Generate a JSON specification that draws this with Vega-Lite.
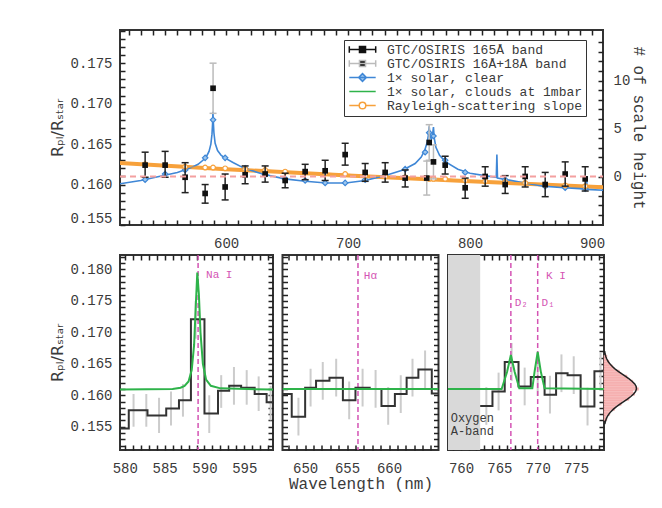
{
"$schema": "https://vega.github.io/schema/vega-lite/v6.json",
"background": "white",
"padding": {"left": 48, "top": 28, "right": 5, "bottom": 5},
"spacing": 30,
"bounds": "flush",
"config": {
  "view": {"stroke": "#333", "strokeWidth": 2},
  "font": "Liberation Mono",
  "axis": {"domain": false, "grid": false, "ticks": true, "tickSize": -5, "labelFont": "Liberation Mono", "labelFontSize": 14, "labelColor": "#3a3a3a", "tickColor": "#222", "tickWidth": 1.5, "titleFont": "Liberation Mono", "titleFontSize": 16, "titleFontWeight": "normal", "titleColor": "#3a3a3a", "labelOverlap": false, "labelFlush": false}
},
"vconcat": [
{
  "width": 483, "height": 195,
  "layer": [
    {"data": {"values": [{"wl":513,"r":0.16265},{"wl":600,"r":0.1619},{"wl":700,"r":0.16112},{"wl":800,"r":0.1604},{"wl":909,"r":0.15967}]},
     "mark": {"type":"line","color":"#f7a13b","strokeWidth":4,"clip":true},
     "encoding": {
       "x": {"field":"wl","type":"quantitative","scale":{"domain":[513,909],"nice":false,"zero":false},
             "axis":{"orient":"bottom","title":null,"labelOverlap":false,"values":[520,530,540,550,560,570,580,590,600,610,620,630,640,650,660,670,680,690,700,710,720,730,740,750,760,770,780,790,800,810,820,830,840,850,860,870,880,890,900],
                     "labelExpr":"datum.value % 100 === 0 ? datum.label : ''",
                     "tickSize":-5,"labelPadding":16}},
       "y": {"field":"r","type":"quantitative","scale":{"domain":[0.155,0.1791],"nice":false,"zero":false},
             "axis":{"orient":"left","title":"R\u209a\u2097/R\u209b\u209c\u2090\u1d63","titleFont":"DejaVu Sans","labelOverlap":false,"values":[0.155,0.156,0.157,0.158,0.159,0.16,0.161,0.162,0.163,0.164,0.165,0.166,0.167,0.168,0.169,0.17,0.171,0.172,0.173,0.174,0.175,0.176,0.177,0.178,0.179],
                     "format":".3f","labelExpr":"round(datum.value*1000) % 5 === 0 ? datum.label : ''",
                     "tickSize":-5,"labelPadding":13,"labelFlush":true,"titlePadding":4}}
     }},
    {"layer": [
      {"data": {"values": [{"wl":513,"r":0.1601},{"wl":530,"r":0.1605},{"wl":545,"r":0.161},{"wl":560,"r":0.1615},{"wl":570,"r":0.162},{"wl":577,"r":0.1625},{"wl":581,"r":0.163},{"wl":584,"r":0.1635},{"wl":586,"r":0.1641},{"wl":587.5,"r":0.165},{"wl":588.4,"r":0.1662},{"wl":588.9,"r":0.1675},{"wl":589.2,"r":0.169},{"wl":589.5,"r":0.1678},{"wl":590,"r":0.1664},{"wl":591,"r":0.1651},{"wl":593,"r":0.1642},{"wl":596,"r":0.1636},{"wl":600,"r":0.1632},{"wl":606,"r":0.1627},{"wl":615,"r":0.162},{"wl":630,"r":0.1613},{"wl":648,"r":0.1607},{"wl":665,"r":0.1604},{"wl":682,"r":0.1602},{"wl":698,"r":0.1602},{"wl":714,"r":0.1605},{"wl":730,"r":0.1611},{"wl":745,"r":0.1618},{"wl":755,"r":0.1626},{"wl":760,"r":0.1634},{"wl":763,"r":0.1643},{"wl":765,"r":0.1653},{"wl":766,"r":0.1663},{"wl":766.5,"r":0.1672},{"wl":767.2,"r":0.166},{"wl":768.3,"r":0.1656},{"wl":769.3,"r":0.1662},{"wl":770,"r":0.1671},{"wl":770.6,"r":0.1658},{"wl":772,"r":0.1646},{"wl":775,"r":0.1636},{"wl":780,"r":0.1628},{"wl":790,"r":0.1619},{"wl":800,"r":0.1614},{"wl":812,"r":0.1611},{"wl":821.5,"r":0.1609},{"wl":822,"r":0.1637},{"wl":822.5,"r":0.1608},{"wl":830,"r":0.1606},{"wl":845,"r":0.1602},{"wl":860,"r":0.1598},{"wl":877,"r":0.1596},{"wl":890,"r":0.1595},{"wl":895,"r":0.1594},{"wl":895.5,"r":0.161},{"wl":896,"r":0.1594},{"wl":909,"r":0.1593}]},
       "mark": {"type":"line","color":"#3f87d6","strokeWidth":1.6,"clip":true},
       "encoding": {"x":{"field":"wl","type":"quantitative","scale":{"domain":[513,909],"nice":false,"zero":false},"axis":null},"y":{"field":"r","type":"quantitative","scale":{"domain":[0.155,0.1791],"nice":false,"zero":false},"axis":null}}},
      {"data": {"values": [{"wl":533.6,"r":0.1606},{"wl":550,"r":0.1613},{"wl":566.4,"r":0.1618},{"wl":582.8,"r":0.1633},{"wl":589.3,"r":0.168},{"wl":599.2,"r":0.1633},{"wl":615.6,"r":0.162},{"wl":632,"r":0.1612},{"wl":648.4,"r":0.1607},{"wl":664.8,"r":0.1605},{"wl":681.2,"r":0.1602},{"wl":697.6,"r":0.1602},{"wl":714,"r":0.1606},{"wl":730.4,"r":0.1612},{"wl":746.8,"r":0.1619},{"wl":763.2,"r":0.164},{"wl":766.5,"r":0.1664},{"wl":770,"r":0.166},{"wl":779.6,"r":0.163},{"wl":796,"r":0.1615},{"wl":812.4,"r":0.1608},{"wl":828.8,"r":0.1606},{"wl":845.2,"r":0.1602},{"wl":861.6,"r":0.1598},{"wl":878,"r":0.1596},{"wl":894.4,"r":0.1595}]},
       "mark": {"type":"point","shape":"diamond","filled":true,"fill":"#9cc6ee","stroke":"#3f87d6","strokeWidth":1.2,"size":30,"opacity":1,"clip":true},
       "encoding": {"x":{"field":"wl","type":"quantitative","scale":{"domain":[513,909],"nice":false,"zero":false},"axis":null},"y":{"field":"r","type":"quantitative","scale":{"domain":[0.155,0.1791],"nice":false,"zero":false},"axis":null}}},
      {"data": {"values": [{"wl":533.6,"r":0.1625},{"wl":550,"r":0.1624},{"wl":566.4,"r":0.1622},{"wl":582.8,"r":0.1621},{"wl":589.3,"r":0.1621},{"wl":599.2,"r":0.162},{"wl":615.6,"r":0.1619},{"wl":632,"r":0.1618},{"wl":648.4,"r":0.1616},{"wl":664.8,"r":0.1615},{"wl":681.2,"r":0.1614},{"wl":697.6,"r":0.1613},{"wl":714,"r":0.1611},{"wl":730.4,"r":0.161},{"wl":746.8,"r":0.1609},{"wl":763.2,"r":0.1608},{"wl":766.5,"r":0.1607},{"wl":770,"r":0.1607},{"wl":779.6,"r":0.1607},{"wl":796,"r":0.1605},{"wl":812.4,"r":0.1604},{"wl":828.8,"r":0.1603},{"wl":845.2,"r":0.1602},{"wl":861.6,"r":0.16},{"wl":878,"r":0.1599},{"wl":894.4,"r":0.1598}]},
       "mark": {"type":"line","color":"#f7a13b","strokeWidth":1,"clip":true,"point":{"shape":"circle","filled":false,"fill":"white","stroke":"#f7a13b","strokeWidth":1.2,"size":22}},
       "encoding": {"x":{"field":"wl","type":"quantitative","scale":{"domain":[513,909],"nice":false,"zero":false},"axis":null},"y":{"field":"r","type":"quantitative","scale":{"domain":[0.155,0.1791],"nice":false,"zero":false},"axis":null}}},
      {"data": {"values": [{"wl":589.3,"r":0.1719,"lo":0.1688,"hi":0.175},{"wl":764.5,"r":0.1608,"lo":0.1587,"hi":0.1629},{"wl":766.5,"r":0.1652,"lo":0.163,"hi":0.1674},{"wl":770,"r":0.1628,"lo":0.1607,"hi":0.1649}]},
       "layer": [
         {"mark": {"type":"rule","color":"#bbbbbb","strokeWidth":1.5},
          "encoding": {"x":{"field":"wl","type":"quantitative","scale":{"domain":[513,909],"nice":false,"zero":false},"axis":null},"y":{"field":"lo","type":"quantitative","scale":{"domain":[0.155,0.1791],"nice":false,"zero":false},"axis":null},"y2":{"field":"hi"}}},
         {"mark": {"type":"tick","orient":"horizontal","color":"#bbbbbb","size":7,"thickness":1.5,"opacity":1},
          "encoding": {"x":{"field":"wl","type":"quantitative","scale":{"domain":[513,909],"nice":false,"zero":false},"axis":null},"y":{"field":"lo","type":"quantitative","scale":{"domain":[0.155,0.1791],"nice":false,"zero":false},"axis":null}}},
         {"mark": {"type":"tick","orient":"horizontal","color":"#bbbbbb","size":7,"thickness":1.5,"opacity":1},
          "encoding": {"x":{"field":"wl","type":"quantitative","scale":{"domain":[513,909],"nice":false,"zero":false},"axis":null},"y":{"field":"hi","type":"quantitative","scale":{"domain":[0.155,0.1791],"nice":false,"zero":false},"axis":null}}}
       ]},
      {"data": {"values": [{"wl":533.6,"lo":0.1609,"hi":0.164},{"wl":550,"lo":0.1609,"hi":0.1641},{"wl":566.4,"lo":0.159,"hi":0.1627},{"wl":582.8,"lo":0.1577,"hi":0.16},{"wl":599.2,"lo":0.1581,"hi":0.1613},{"wl":615.6,"lo":0.1601,"hi":0.1623},{"wl":632,"lo":0.1603,"hi":0.1623},{"wl":648.4,"lo":0.1596,"hi":0.1614},{"wl":664.8,"lo":0.1606,"hi":0.1625},{"wl":681.2,"lo":0.1605,"hi":0.163},{"wl":697.6,"lo":0.1624,"hi":0.1651},{"wl":714,"lo":0.1604,"hi":0.1626},{"wl":730.4,"lo":0.1603,"hi":0.1627},{"wl":746.8,"lo":0.1597,"hi":0.1618},{"wl":779.6,"lo":0.1613,"hi":0.1635},{"wl":796,"lo":0.1583,"hi":0.1608},{"wl":812.4,"lo":0.1598,"hi":0.1622},{"wl":828.8,"lo":0.1589,"hi":0.1611},{"wl":845.2,"lo":0.1597,"hi":0.1622},{"wl":861.6,"lo":0.1585,"hi":0.1615},{"wl":878,"lo":0.1598,"hi":0.1628},{"wl":894.4,"lo":0.1592,"hi":0.1622}]},
       "layer": [
         {"mark": {"type":"rule","color":"#222222","strokeWidth":1.5},
          "encoding": {"x":{"field":"wl","type":"quantitative","scale":{"domain":[513,909],"nice":false,"zero":false},"axis":null},"y":{"field":"lo","type":"quantitative","scale":{"domain":[0.155,0.1791],"nice":false,"zero":false},"axis":null},"y2":{"field":"hi"}}},
         {"mark": {"type":"tick","orient":"horizontal","color":"#222222","size":7,"thickness":1.5,"opacity":1},
          "encoding": {"x":{"field":"wl","type":"quantitative","scale":{"domain":[513,909],"nice":false,"zero":false},"axis":null},"y":{"field":"lo","type":"quantitative","scale":{"domain":[0.155,0.1791],"nice":false,"zero":false},"axis":null}}},
         {"mark": {"type":"tick","orient":"horizontal","color":"#222222","size":7,"thickness":1.5,"opacity":1},
          "encoding": {"x":{"field":"wl","type":"quantitative","scale":{"domain":[513,909],"nice":false,"zero":false},"axis":null},"y":{"field":"hi","type":"quantitative","scale":{"domain":[0.155,0.1791],"nice":false,"zero":false},"axis":null}}}
       ]},
      {"data": {"values": [{"wl":533.6,"r":0.1624},{"wl":550,"r":0.1624},{"wl":566.4,"r":0.1609},{"wl":582.8,"r":0.1589},{"wl":599.2,"r":0.1597},{"wl":615.6,"r":0.1612},{"wl":632,"r":0.1613},{"wl":648.4,"r":0.1605},{"wl":664.8,"r":0.1616},{"wl":681.2,"r":0.1617},{"wl":697.6,"r":0.1637},{"wl":714,"r":0.1615},{"wl":730.4,"r":0.1615},{"wl":746.8,"r":0.1608},{"wl":779.6,"r":0.1624},{"wl":796,"r":0.1596},{"wl":812.4,"r":0.161},{"wl":828.8,"r":0.16},{"wl":845.2,"r":0.161},{"wl":861.6,"r":0.16},{"wl":878,"r":0.1613},{"wl":894.4,"r":0.1607},{"wl":589.3,"r":0.1719},{"wl":764.5,"r":0.1608},{"wl":766.5,"r":0.1652},{"wl":770,"r":0.1628}]},
       "mark": {"type":"point","shape":"square","filled":true,"color":"#111111","size":32,"opacity":1},
       "encoding": {"x":{"field":"wl","type":"quantitative","scale":{"domain":[513,909],"nice":false,"zero":false},"axis":null},"y":{"field":"r","type":"quantitative","scale":{"domain":[0.155,0.1791],"nice":false,"zero":false},"axis":null}}},
      {"data": {"values": [{"series":"GTC/OSIRIS 165Å band"},{"series":"GTC/OSIRIS 16Å+18Å band"},{"series":"1× solar, clear"},{"series":"1× solar, clouds at 1mbar"},{"series":"Rayleigh-scattering slope"}]},
       "mark": {"type":"point","filled":true,"opacity":1,"strokeWidth":1.5},
       "encoding": {
         "x":{"field":"nx","type":"quantitative","scale":{"domain":[513,909],"nice":false,"zero":false},"axis":null},
         "y":{"field":"ny","type":"quantitative","scale":{"domain":[0.155,0.1791],"nice":false,"zero":false},"axis":null},
         "shape":{"field":"series","type":"nominal",
           "scale":{"domain":["GTC/OSIRIS 165Å band","GTC/OSIRIS 16Å+18Å band","1× solar, clear","1× solar, clouds at 1mbar","Rayleigh-scattering slope"],
                    "range":["M-2.4,0H2.4M-2.4,-0.6V0.6M2.4,-0.6V0.6M-0.55,-0.55H0.55V0.55H-0.55Z","M-2.4,0H2.4M-2.4,-0.6V0.6M2.4,-0.6V0.6M-0.55,-0.55H0.55V0.55H-0.55Z","M-2.4,0H2.4M0,-0.7L0.7,0L0,0.7L-0.7,0Z","M-2.4,0H2.4","M-2.4,0H-0.6M0.6,0H2.4M0.6,0A0.6,0.6 0 1,1 -0.6,0A0.6,0.6 0 1,1 0.6,0Z"]},
           "legend":{"title":null,"orient":"none","legendX":224,"legendY":10,"fillColor":"white","strokeColor":"#333","padding":3,"labelFont":"Liberation Mono","labelFontSize":13,"labelColor":"#3a3a3a","symbolSize":121,"symbolStrokeWidth":1.5,"symbolOffset":9,"labelOffset":18,"rowPadding":-1,"cornerRadius":0,"labelLimit":400}},
         "fill":{"field":"series","type":"nominal",
           "scale":{"domain":["GTC/OSIRIS 165Å band","GTC/OSIRIS 16Å+18Å band","1× solar, clear","1× solar, clouds at 1mbar","Rayleigh-scattering slope"],"range":["#111111","#111111","#9cc6ee","transparent","white"]},
           "legend":{"title":null,"orient":"none","legendX":224,"legendY":10,"fillColor":"white","strokeColor":"#333","padding":3,"labelFont":"Liberation Mono","labelFontSize":13,"labelColor":"#3a3a3a","symbolSize":121,"symbolStrokeWidth":1.5,"symbolOffset":9,"labelOffset":18,"rowPadding":-1,"cornerRadius":0,"labelLimit":400}},
         "stroke":{"field":"series","type":"nominal",
           "scale":{"domain":["GTC/OSIRIS 165Å band","GTC/OSIRIS 16Å+18Å band","1× solar, clear","1× solar, clouds at 1mbar","Rayleigh-scattering slope"],"range":["#111111","#bbbbbb","#3f87d6","#2eb34a","#f7a13b"]},
           "legend":{"title":null,"orient":"none","legendX":224,"legendY":10,"fillColor":"white","strokeColor":"#333","padding":3,"labelFont":"Liberation Mono","labelFontSize":13,"labelColor":"#3a3a3a","symbolSize":121,"symbolStrokeWidth":1.5,"symbolOffset":9,"labelOffset":18,"rowPadding":-1,"cornerRadius":0,"labelLimit":400}}
       }}
    ]},
    {"data": {"values": [{"wl":513,"sh":0},{"wl":909,"sh":0}]},
     "mark": {"type":"line","color":"#f4a0a0","strokeDash":[6,4],"strokeWidth":2,"clip":true},
     "encoding": {
       "x": {"field":"wl","type":"quantitative","scale":{"domain":[513,909],"nice":false,"zero":false},
             "axis":{"orient":"top","title":null,"labels":false,"values":[520,530,540,550,560,570,580,590,600,610,620,630,640,650,660,670,680,690,700,710,720,730,740,750,760,770,780,790,800,810,820,830,840,850,860,870,880,890,900],
                     "tickSize":-5}},
       "y": {"field":"sh","type":"quantitative","scale":{"domain":[-5.04,15.27],"nice":false,"zero":false},
             "axis":{"orient":"right","title":"# of scale height","labelOverlap":false,"values":[-4,-3,-2,-1,0,1,2,3,4,5,6,7,8,9,10,11,12,13,14],
                     "labelExpr":"datum.value % 5 === 0 ? datum.label : ''",
                     "tickSize":-5,"labelPadding":15,"titlePadding":1}}
     }}
  ],
  "resolve": {"scale": {"y": "independent"}, "axis": {"x": "independent", "y": "independent"}}
},
{
  "hconcat": [
    {
      "width": 153, "height": 195,
      "layer": [
        {"data": {"values": [{"wl":581.1,"lo":0.155,"hi":0.1602},{"wl":582.7,"lo":0.155,"hi":0.1602},{"wl":584.3,"lo":0.154,"hi":0.1596},{"wl":585.8,"lo":0.1552,"hi":0.1606},{"wl":587.3,"lo":0.1566,"hi":0.1618},{"wl":588.9,"lo":0.169,"hi":0.175},{"wl":590.6,"lo":0.154,"hi":0.16},{"wl":592.1,"lo":0.158,"hi":0.1632},{"wl":593.7,"lo":0.1585,"hi":0.1645},{"wl":595.3,"lo":0.1585,"hi":0.164},{"wl":596.8,"lo":0.1575,"hi":0.163},{"wl":598.3,"lo":0.156,"hi":0.1615}]},
         "mark": {"type":"rule","color":"#cccccc","strokeWidth":2,"clip":true},
         "encoding": {
           "x": {"field":"wl","type":"quantitative","scale":{"domain":[579.4,598.6],"nice":false,"zero":false},
                 "axis":{"orient":"bottom","title":null,"labelOverlap":false,"values":[580,581,582,583,584,585,586,587,588,589,590,591,592,593,594,595,596,597,598],
                         "labelExpr":"datum.value % 5 === 0 ? datum.label : ''",
                         "tickSize":-5,"labelPadding":16}},
           "y": {"field":"lo","type":"quantitative","scale":{"domain":[0.1513,0.1823],"nice":false,"zero":false},
                 "axis":{"orient":"left","title":"R\u209a\u2097/R\u209b\u209c\u2090\u1d63","titleFont":"DejaVu Sans","labelOverlap":false,"values":[0.152,0.153,0.154,0.155,0.156,0.157,0.158,0.159,0.16,0.161,0.162,0.163,0.164,0.165,0.166,0.167,0.168,0.169,0.17,0.171,0.172,0.173,0.174,0.175,0.176,0.177,0.178,0.179,0.18,0.181,0.182],
                         "format":".3f","labelExpr":"round(datum.value*1000) % 5 === 0 ? datum.label : ''",
                         "tickSize":-5,"labelPadding":13,"titlePadding":4}},
           "y2": {"field":"hi"}
         }},
        {"layer": [
          {"data": {"values": [{"wl":589.2}]},
           "mark": {"type":"rule","color":"#d454b4","strokeDash":[5,3],"strokeWidth":1.5},
           "encoding": {"x":{"field":"wl","type":"quantitative","scale":{"domain":[579.4,598.6],"nice":false,"zero":false},"axis":null}}},
          {"data": {"values": [{"wl":579.4,"r":0.1547},{"wl":580.5,"r":0.1576},{"wl":582.85,"r":0.1568},{"wl":585.2,"r":0.1579},{"wl":586.8,"r":0.1592},{"wl":588.3,"r":0.1721},{"wl":590,"r":0.1571},{"wl":591.7,"r":0.1607},{"wl":593.1,"r":0.1615},{"wl":594.6,"r":0.1612},{"wl":596.3,"r":0.1602},{"wl":597.8,"r":0.1589},{"wl":598.6,"r":0.1589}]},
           "mark": {"type":"line","interpolate":"step-after","color":"#333333","strokeWidth":2,"clip":true},
           "encoding": {"x":{"field":"wl","type":"quantitative","scale":{"domain":[579.4,598.6],"nice":false,"zero":false},"axis":null},"y":{"field":"r","type":"quantitative","scale":{"domain":[0.1513,0.1823],"nice":false,"zero":false},"axis":null}}},
          {"data": {"values": [{"wl":590.2,"r":0.1792,"txt":"Na I"}]},
           "mark": {"type":"text","align":"left","baseline":"middle","color":"#d454b4","font":"Liberation Mono","fontSize":11},
           "encoding": {"x":{"field":"wl","type":"quantitative","scale":{"domain":[579.4,598.6],"nice":false,"zero":false},"axis":null},"y":{"field":"r","type":"quantitative","scale":{"domain":[0.1513,0.1823],"nice":false,"zero":false},"axis":null},"text":{"field":"txt"}}}
        ]},
        {"data": {"values": [{"wl":579.4,"r":0.1609},{"wl":586,"r":0.161},{"wl":587,"r":0.1612},{"wl":587.5,"r":0.1615},{"wl":588,"r":0.1622},{"wl":588.4,"r":0.164},{"wl":588.7,"r":0.168},{"wl":588.9,"r":0.174},{"wl":589.1,"r":0.1795},{"wl":589.3,"r":0.176},{"wl":589.5,"r":0.17},{"wl":589.8,"r":0.165},{"wl":590.2,"r":0.1625},{"wl":590.8,"r":0.1615},{"wl":592,"r":0.1611},{"wl":598.6,"r":0.1609}]},
         "mark": {"type":"line","color":"#2eb34a","strokeWidth":2,"clip":true},
         "encoding": {
           "x": {"field":"wl","type":"quantitative","scale":{"domain":[579.4,598.6],"nice":false,"zero":false},
                 "axis":{"orient":"top","title":null,"labels":false,"values":[580,581,582,583,584,585,586,587,588,589,590,591,592,593,594,595,596,597,598],
                         "tickSize":-5}},
           "y": {"field":"r","type":"quantitative","scale":{"domain":[0.1513,0.1823],"nice":false,"zero":false},
                 "axis":{"orient":"right","title":null,"labels":false,"values":[0.152,0.153,0.154,0.155,0.156,0.157,0.158,0.159,0.16,0.161,0.162,0.163,0.164,0.165,0.166,0.167,0.168,0.169,0.17,0.171,0.172,0.173,0.174,0.175,0.176,0.177,0.178,0.179,0.18,0.181,0.182],
                         "tickSize":-5}}
         }}
      ],
      "resolve": {"axis": {"x": "independent", "y": "independent"}}
    },
    {
      "width": 156, "height": 195,
      "layer": [
        {"data": {"values": [{"wl":649.2,"lo":0.1536,"hi":0.1596},{"wl":650.65,"lo":0.1582,"hi":0.1642},{"wl":652.1,"lo":0.1593,"hi":0.1653},{"wl":653.7,"lo":0.1598,"hi":0.1658},{"wl":655.25,"lo":0.1562,"hi":0.1622},{"wl":656.85,"lo":0.1582,"hi":0.1642},{"wl":658.4,"lo":0.158,"hi":0.164},{"wl":659.9,"lo":0.1553,"hi":0.1613},{"wl":661.4,"lo":0.1572,"hi":0.1632},{"wl":662.8,"lo":0.1598,"hi":0.1658},{"wl":664.3,"lo":0.1611,"hi":0.1671}]},
         "mark": {"type":"rule","color":"#cccccc","strokeWidth":2,"clip":true},
         "encoding": {
           "x": {"field":"wl","type":"quantitative","scale":{"domain":[647.3,665.9],"nice":false,"zero":false},
                 "axis":{"orient":"bottom","title":"Wavelength (nm)","labelOverlap":false,"values":[648,649,650,651,652,653,654,655,656,657,658,659,660,661,662,663,664,665],
                         "labelExpr":"datum.value % 5 === 0 && datum.value < 665 ? datum.label : ''",
                         "tickSize":-5,"labelPadding":16,"titlePadding":0}},
           "y": {"field":"lo","type":"quantitative","scale":{"domain":[0.1513,0.1823],"nice":false,"zero":false},
                 "axis":{"orient":"left","title":null,"labels":false,"values":[0.152,0.153,0.154,0.155,0.156,0.157,0.158,0.159,0.16,0.161,0.162,0.163,0.164,0.165,0.166,0.167,0.168,0.169,0.17,0.171,0.172,0.173,0.174,0.175,0.176,0.177,0.178,0.179,0.18,0.181,0.182],
                         "tickSize":-5}},
           "y2": {"field":"hi"}
         }},
        {"layer": [
          {"data": {"values": [{"wl":656.3}]},
           "mark": {"type":"rule","color":"#d454b4","strokeDash":[5,3],"strokeWidth":1.5},
           "encoding": {"x":{"field":"wl","type":"quantitative","scale":{"domain":[647.3,665.9],"nice":false,"zero":false},"axis":null}}},
          {"data": {"values": [{"wl":647.3,"r":0.1602},{"wl":648.4,"r":0.1566},{"wl":650,"r":0.1612},{"wl":651.3,"r":0.1623},{"wl":652.9,"r":0.1628},{"wl":654.5,"r":0.1592},{"wl":656,"r":0.1612},{"wl":657.7,"r":0.161},{"wl":659.1,"r":0.1583},{"wl":660.7,"r":0.1602},{"wl":662.1,"r":0.1628},{"wl":663.5,"r":0.1641},{"wl":665.1,"r":0.1603},{"wl":665.9,"r":0.1603}]},
           "mark": {"type":"line","interpolate":"step-after","color":"#333333","strokeWidth":2,"clip":true},
           "encoding": {"x":{"field":"wl","type":"quantitative","scale":{"domain":[647.3,665.9],"nice":false,"zero":false},"axis":null},"y":{"field":"r","type":"quantitative","scale":{"domain":[0.1513,0.1823],"nice":false,"zero":false},"axis":null}}},
          {"data": {"values": [{"wl":657.0,"r":0.1789,"txt":"Hα"}]},
           "mark": {"type":"text","align":"left","baseline":"middle","color":"#d454b4","font":"Liberation Mono","fontSize":11},
           "encoding": {"x":{"field":"wl","type":"quantitative","scale":{"domain":[647.3,665.9],"nice":false,"zero":false},"axis":null},"y":{"field":"r","type":"quantitative","scale":{"domain":[0.1513,0.1823],"nice":false,"zero":false},"axis":null},"text":{"field":"txt"}}}
        ]},
        {"data": {"values": [{"wl":647.3,"r":0.161},{"wl":665.9,"r":0.161}]},
         "mark": {"type":"line","color":"#2eb34a","strokeWidth":2,"clip":true},
         "encoding": {
           "x": {"field":"wl","type":"quantitative","scale":{"domain":[647.3,665.9],"nice":false,"zero":false},
                 "axis":{"orient":"top","title":null,"labels":false,"values":[648,649,650,651,652,653,654,655,656,657,658,659,660,661,662,663,664,665],
                         "tickSize":-5}},
           "y": {"field":"r","type":"quantitative","scale":{"domain":[0.1513,0.1823],"nice":false,"zero":false},
                 "axis":{"orient":"right","title":null,"labels":false,"values":[0.152,0.153,0.154,0.155,0.156,0.157,0.158,0.159,0.16,0.161,0.162,0.163,0.164,0.165,0.166,0.167,0.168,0.169,0.17,0.171,0.172,0.173,0.174,0.175,0.176,0.177,0.178,0.179,0.18,0.181,0.182],
                         "tickSize":-5}}
         }}
      ],
      "resolve": {"axis": {"x": "independent", "y": "independent"}}
    },
    {
      "hconcat": [
        {
          "width": 156, "height": 195,
          "layer": [
            {"data": {"values": [{"wl":763.3,"lo":0.1553,"hi":0.1613},{"wl":764.9,"lo":0.1576,"hi":0.1636},{"wl":766.6,"lo":0.1623,"hi":0.1683},{"wl":768.3,"lo":0.1584,"hi":0.1644},{"wl":770.0,"lo":0.1599,"hi":0.1659},{"wl":771.6,"lo":0.1571,"hi":0.1631},{"wl":773.1,"lo":0.1605,"hi":0.1665},{"wl":774.7,"lo":0.1602,"hi":0.1662},{"wl":776.5,"lo":0.1552,"hi":0.1612},{"wl":778.2,"lo":0.1608,"hi":0.1668}]},
             "mark": {"type":"rule","color":"#cccccc","strokeWidth":2,"clip":true},
             "encoding": {
               "x": {"field":"wl","type":"quantitative","scale":{"domain":[758.3,778.65],"nice":false,"zero":false},
                     "axis":{"orient":"bottom","title":null,"labelOverlap":false,"values":[759,760,761,762,763,764,765,766,767,768,769,770,771,772,773,774,775,776,777,778],
                             "labelExpr":"datum.value % 5 === 0 ? datum.label : ''",
                             "tickSize":-5,"labelPadding":16}},
               "y": {"field":"lo","type":"quantitative","scale":{"domain":[0.1513,0.1823],"nice":false,"zero":false},
                     "axis":{"orient":"left","title":null,"labels":false,"values":[0.152,0.153,0.154,0.155,0.156,0.157,0.158,0.159,0.16,0.161,0.162,0.163,0.164,0.165,0.166,0.167,0.168,0.169,0.17,0.171,0.172,0.173,0.174,0.175,0.176,0.177,0.178,0.179,0.18,0.181,0.182],
                             "tickSize":-5}},
               "y2": {"field":"hi"}
             }},
            {"layer": [
              {"data": {"values": [{"wl":758.3,"wl2":762.5}]},
               "mark": {"type":"rect","color":"#d9d9d9"},
               "encoding": {"x":{"field":"wl","type":"quantitative","scale":{"domain":[758.3,778.65],"nice":false,"zero":false},"axis":null},"x2":{"field":"wl2"}}},
              {"data": {"values": [{"wl":766.5},{"wl":770.0}]},
               "mark": {"type":"rule","color":"#d454b4","strokeDash":[5,3],"strokeWidth":1.5},
               "encoding": {"x":{"field":"wl","type":"quantitative","scale":{"domain":[758.3,778.65],"nice":false,"zero":false},"axis":null}}},
              {"data": {"values": [{"wl":762.5,"r":0.1583},{"wl":764.1,"r":0.1606},{"wl":765.7,"r":0.1653},{"wl":767.5,"r":0.1614},{"wl":769.1,"r":0.1629},{"wl":770.9,"r":0.1601},{"wl":772.4,"r":0.1635},{"wl":773.9,"r":0.1632},{"wl":775.6,"r":0.1582},{"wl":777.4,"r":0.1638},{"wl":778.65,"r":0.1638}]},
               "mark": {"type":"line","interpolate":"step-after","color":"#333333","strokeWidth":2,"clip":true},
               "encoding": {"x":{"field":"wl","type":"quantitative","scale":{"domain":[758.3,778.65],"nice":false,"zero":false},"axis":null},"y":{"field":"r","type":"quantitative","scale":{"domain":[0.1513,0.1823],"nice":false,"zero":false},"axis":null}}},
              {"data": {"values": [{"wl":771.1,"r":0.1789,"txt":"K I"},{"wl":767.0,"r":0.1746,"txt":"D₂"},{"wl":770.5,"r":0.1746,"txt":"D₁"}]},
               "mark": {"type":"text","align":"left","baseline":"middle","color":"#d454b4","font":"Liberation Mono","fontSize":11},
               "encoding": {"x":{"field":"wl","type":"quantitative","scale":{"domain":[758.3,778.65],"nice":false,"zero":false},"axis":null},"y":{"field":"r","type":"quantitative","scale":{"domain":[0.1513,0.1823],"nice":false,"zero":false},"axis":null},"text":{"field":"txt"}}},
              {"data": {"values": [{"wl":758.65,"r":0.1564,"txt":"Oxygen"},{"wl":758.65,"r":0.1543,"txt":"A-band"}]},
               "mark": {"type":"text","align":"left","baseline":"middle","color":"#3a3a3a","font":"Liberation Mono","fontSize":12},
               "encoding": {"x":{"field":"wl","type":"quantitative","scale":{"domain":[758.3,778.65],"nice":false,"zero":false},"axis":null},"y":{"field":"r","type":"quantitative","scale":{"domain":[0.1513,0.1823],"nice":false,"zero":false},"axis":null},"text":{"field":"txt"}}}
            ]},
            {"data": {"values": [{"wl":758.3,"r":0.161},{"wl":765.3,"r":0.161},{"wl":766.0,"r":0.1637},{"wl":766.5,"r":0.1664},{"wl":767.0,"r":0.1637},{"wl":767.6,"r":0.1611},{"wl":769.3,"r":0.1611},{"wl":769.6,"r":0.1638},{"wl":770.0,"r":0.1669},{"wl":770.4,"r":0.1638},{"wl":770.9,"r":0.1611},{"wl":778.65,"r":0.161}]},
             "mark": {"type":"line","color":"#2eb34a","strokeWidth":2,"clip":true},
             "encoding": {
               "x": {"field":"wl","type":"quantitative","scale":{"domain":[758.3,778.65],"nice":false,"zero":false},
                     "axis":{"orient":"top","title":null,"labels":false,"values":[759,760,761,762,763,764,765,766,767,768,769,770,771,772,773,774,775,776,777,778],
                             "tickSize":-5}},
               "y": {"field":"r","type":"quantitative","scale":{"domain":[0.1513,0.1823],"nice":false,"zero":false},
                     "axis":{"orient":"right","title":null,"labels":false,"values":[0.152,0.153,0.154,0.155,0.156,0.157,0.158,0.159,0.16,0.161,0.162,0.163,0.164,0.165,0.166,0.167,0.168,0.169,0.17,0.171,0.172,0.173,0.174,0.175,0.176,0.177,0.178,0.179,0.18,0.181,0.182],
                             "tickSize":-5}}
             }}
          ],
          "resolve": {"axis": {"x": "independent", "y": "independent"}}
        },
        {
          "width": 42, "height": 195,
          "view": {"stroke": null},
          "layer": [
            {"data": {"values": [{"lo":0.156,"hi":0.1564,"n":3},{"lo":0.1564,"hi":0.1568,"n":2},{"lo":0.1568,"hi":0.1572,"n":6},{"lo":0.1572,"hi":0.1576,"n":6},{"lo":0.1576,"hi":0.158,"n":11},{"lo":0.158,"hi":0.1584,"n":12},{"lo":0.1584,"hi":0.1588,"n":18},{"lo":0.1588,"hi":0.1592,"n":19},{"lo":0.1592,"hi":0.1596,"n":26},{"lo":0.1596,"hi":0.16,"n":27},{"lo":0.16,"hi":0.1604,"n":32},{"lo":0.1604,"hi":0.1608,"n":30},{"lo":0.1608,"hi":0.1612,"n":36},{"lo":0.1612,"hi":0.1616,"n":33},{"lo":0.1616,"hi":0.162,"n":31},{"lo":0.162,"hi":0.1624,"n":30},{"lo":0.1624,"hi":0.1628,"n":25},{"lo":0.1628,"hi":0.1632,"n":24},{"lo":0.1632,"hi":0.1636,"n":18},{"lo":0.1636,"hi":0.164,"n":16},{"lo":0.164,"hi":0.1644,"n":10},{"lo":0.1644,"hi":0.1648,"n":9},{"lo":0.1648,"hi":0.1652,"n":5},{"lo":0.1652,"hi":0.1656,"n":5},{"lo":0.1656,"hi":0.166,"n":2},{"lo":0.166,"hi":0.1664,"n":3}]},
             "mark": {"type":"rect","fill":"#f7bcbc","stroke":"#f29a9a","strokeWidth":0.5},
             "encoding": {
               "x": {"field":"n","type":"quantitative","scale":{"domain":[0,44],"nice":false},"axis":null},
               "x2": {"datum":0},
               "y": {"field":"lo","type":"quantitative","scale":{"domain":[0.1513,0.1823],"nice":false,"zero":false},"axis":null},
               "y2": {"field":"hi"}
             }},
            {"data": {"values": [{"r":0.1554,"n":0.85},{"r":0.1558,"n":1.4},{"r":0.1562,"n":2.2},{"r":0.1566,"n":3.4},{"r":0.157,"n":5.1},{"r":0.1574,"n":7.2},{"r":0.1578,"n":9.9},{"r":0.1582,"n":13.1},{"r":0.1586,"n":16.7},{"r":0.159,"n":20.6},{"r":0.1594,"n":24.5},{"r":0.1598,"n":28.1},{"r":0.1602,"n":31.0},{"r":0.1606,"n":33.1},{"r":0.161,"n":34.0},{"r":0.1614,"n":33.7},{"r":0.1618,"n":32.2},{"r":0.1622,"n":29.6},{"r":0.1626,"n":26.3},{"r":0.163,"n":22.6},{"r":0.1634,"n":18.7},{"r":0.1638,"n":14.9},{"r":0.1642,"n":11.4},{"r":0.1646,"n":8.5},{"r":0.165,"n":6.1},{"r":0.1654,"n":4.2},{"r":0.1658,"n":2.8},{"r":0.1662,"n":1.8},{"r":0.1666,"n":1.1},{"r":0.167,"n":0.66}]},
             "mark": {"type":"line","color":"#222222","strokeWidth":1.5},
             "encoding": {
               "x": {"field":"n","type":"quantitative","scale":{"domain":[0,44],"nice":false},"axis":null},
               "y": {"field":"r","type":"quantitative","scale":{"domain":[0.1513,0.1823],"nice":false,"zero":false},"axis":null},
               "order": {"field":"r","type":"quantitative"}
             }}
          ]
        }
      ],
      "spacing": 0,
      "bounds": "flush"
    }
  ],
  "spacing": 9.5,
  "bounds": "flush"
}
]
}
